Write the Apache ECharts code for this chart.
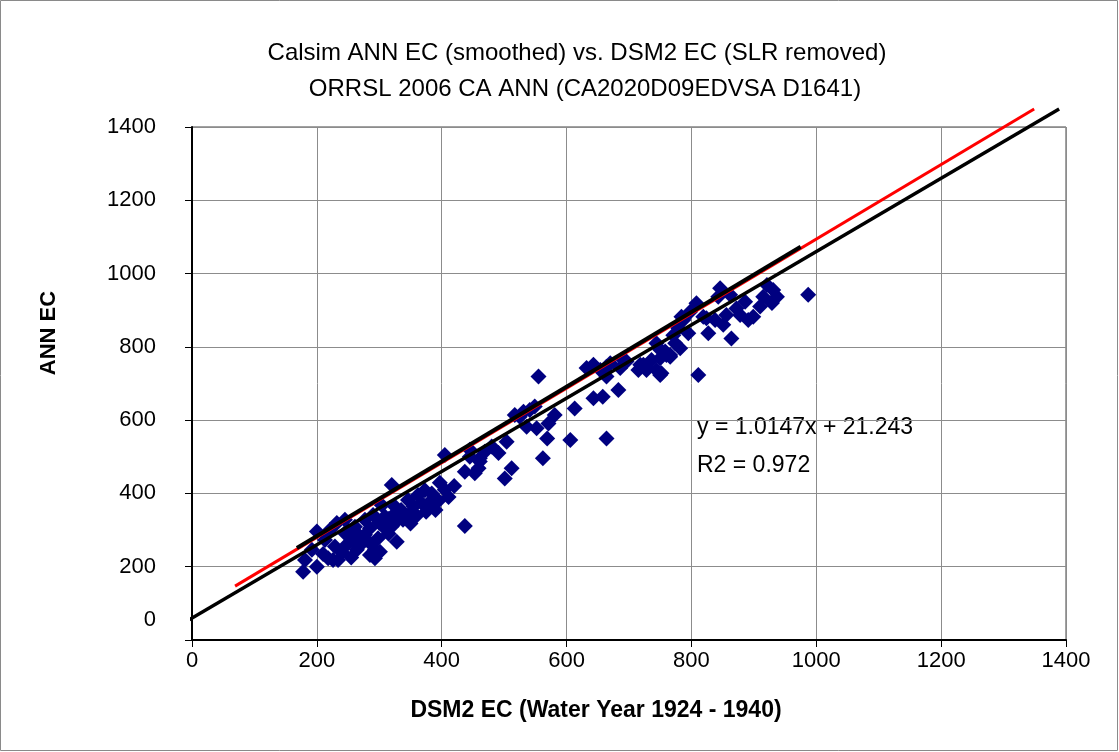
<!DOCTYPE html>
<html>
<head>
<meta charset="utf-8">
<script src="https://cdn.jsdelivr.net/npm/echarts@6/dist/echarts.min.js"></script>
<style>
  html, body { margin: 0; padding: 0; background: #fff; }
  #chart { width: 1119px; height: 752px; }
</style>
</head>
<body>
<div id="chart"></div>
<script>
var titleLines = ['Calsim ANN EC (smoothed) vs. DSM2 EC (SLR removed)', 'ORRSL 2006 CA ANN (CA2020D09EDVSA D1641)'];
var xName = 'DSM2 EC (Water Year 1924 - 1940)';
var yName = 'ANN EC';
var xTicks = [0, 200, 400, 600, 800, 1000, 1200, 1400];
var yTicks = [0, 200, 400, 600, 800, 1000, 1200, 1400];
var fitText = ['y = 1.0147x + 21.243', 'R2 = 0.972'];

// DSM2 EC vs ANN EC, monthly points
var lowPoints = [
  [178, 186], [200, 296], [200, 200], [226, 218], [232, 319], [285, 232], [301, 241],
  [328, 268], [344, 337], [320, 423], [381, 374], [397, 429], [405, 505], [437, 459],
  [411, 390], [437, 311], [218, 223], [234, 218], [245, 255], [256, 273], [264, 246],
  [277, 287], [293, 246], [298, 278], [309, 305], [330, 328], [338, 328], [309, 337],
  [290, 341], [277, 328], [261, 309], [245, 291], [213, 273], [192, 246], [181, 218],
  [304, 368], [325, 364], [346, 382], [352, 350], [362, 396], [373, 409], [384, 400],
  [384, 382], [368, 373], [445, 500], [461, 487], [453, 455], [469, 514], [229, 255],
  [272, 273], [296, 235], [293, 223], [245, 328], [221, 300], [250, 300], [265, 290],
  [285, 305], [300, 320], [315, 330], [325, 345], [335, 355], [355, 365], [270, 260],
  [285, 265], [315, 290], [320, 310], [210, 235], [240, 240], [255, 225], [350, 318],
  [360, 340], [395, 380], [405, 410], [420, 420], [375, 350], [390, 355]
];
var midPoints = [
  [555, 719], [632, 742], [643, 751], [670, 755], [691, 764], [723, 751], [744, 737],
  [750, 723], [766, 778], [683, 682], [643, 660], [613, 632], [581, 614], [571, 591],
  [552, 578], [536, 582], [525, 609], [541, 628], [549, 637], [606, 546], [664, 550],
  [569, 550], [562, 496], [512, 469], [501, 441], [504, 541], [491, 510], [480, 528],
  [461, 496], [459, 469], [445, 519], [517, 614], [531, 623]
];
var highPoints = [
  [987, 942], [921, 969], [931, 955], [929, 920], [937, 937], [915, 937], [910, 910],
  [899, 882], [891, 873], [886, 923], [872, 905], [862, 942], [846, 960], [843, 937],
  [856, 887], [851, 860], [864, 823], [827, 837], [824, 878], [808, 919], [798, 896],
  [784, 882], [779, 851], [795, 837], [771, 832], [782, 796], [750, 792], [744, 810],
  [760, 778], [736, 764], [752, 728], [726, 746], [715, 737], [696, 760], [686, 742],
  [811, 723], [878, 887], [838, 873], [819, 882], [787, 873], [774, 810], [758, 787],
  [766, 773], [750, 769], [718, 751], [728, 737], [664, 746], [654, 737], [664, 719],
  [658, 664]
];
var points = lowPoints.concat(midPoints, highPoints);

// trend lines (end points)
var redLine = [[69, 147], [1349, 1449]];
var shortLine = [[168, 251], [975, 1073]];
var longLine = [[-10, 50], [1389, 1449]];

var chart = echarts.init(document.getElementById('chart'));
var font = 'Liberation Sans, Arial, sans-serif';

var option = {
  backgroundColor: '#fff',
  animation: false,
  title: [
    { text: titleLines[0], left: 572, top: 36, textAlign: 'center',
      textStyle: { fontFamily: font, fontSize: 24, fontWeight: 'normal', color: '#000' } },
    { text: titleLines[1], left: 580, top: 72, textAlign: 'center',
      textStyle: { fontFamily: font, fontSize: 24, fontWeight: 'normal', color: '#000' } }
  ],
  grid: { left: 192, right: 53, top: 127, bottom: 112, show: true, borderColor: '#444', borderWidth: 1 },
  xAxis: {
    type: 'value', min: 0, max: 1400, interval: 200,
    axisLine: { show: true, onZero: false, lineStyle: { color: '#000', width: 2 } },
    axisTick: { show: true, inside: false, length: 7, lineStyle: { color: '#000' } },
    axisLabel: { fontFamily: font, fontSize: 22, color: '#000', margin: 10,
      formatter: function (v) { return xTicks.indexOf(v) >= 0 ? String(v) : ''; } },
    splitLine: { show: true, lineStyle: { color: '#8c8c8c', width: 1 } }
  },
  yAxis: {
    type: 'value', min: 0, max: 1400, interval: 200,
    axisLine: { show: true, onZero: false, lineStyle: { color: '#000', width: 2 } },
    axisTick: { show: true, inside: false, length: 7, lineStyle: { color: '#000' } },
    axisLabel: { fontFamily: font, fontSize: 22, color: '#000', margin: 36,
      formatter: function (v) { return v === 0 ? '{z|0}' : (yTicks.indexOf(v) >= 0 ? String(v) : ''); },
      rich: { z: { fontFamily: font, fontSize: 22, color: '#000', padding: [0, 0, 40, 0] } } },
    splitLine: { show: true, lineStyle: { color: '#8c8c8c', width: 1 } }
  },
  graphic: [
    { type: 'rect', shape: { x: 0.5, y: 0.5, width: 1117, height: 750 },
      style: { fill: null, stroke: '#8a8a8a', lineWidth: 1 }, silent: true },
    { type: 'text', x: 697, y: 428,
      style: { text: fitText[0], font: '23px ' + font, fill: '#000', textVerticalAlign: 'middle' } },
    { type: 'text', x: 697, y: 466,
      style: { text: fitText[1], font: '23px ' + font, fill: '#000', textVerticalAlign: 'middle' } },
    { type: 'text', x: 596, y: 711,
      style: { text: xName, font: 'bold 23px ' + font, fill: '#000', textAlign: 'center', textVerticalAlign: 'middle' } },
    { type: 'text', x: 49, y: 333, rotation: Math.PI / 2,
      style: { text: yName, font: 'bold 22px ' + font, fill: '#000', textAlign: 'center', textVerticalAlign: 'middle' } }
  ],
  series: [
    { type: 'scatter', data: points, symbol: 'diamond', symbolSize: 16,
      itemStyle: { color: '#000080', opacity: 1 }, z: 2 },
    { type: 'line', data: redLine, showSymbol: false, symbol: 'none', clip: false,
      lineStyle: { color: '#ff0000', width: 3 }, z: 3 },
    { type: 'line', data: shortLine, showSymbol: false, symbol: 'none', clip: false,
      lineStyle: { color: '#000', width: 4 }, z: 4 },
    { type: 'line', data: longLine, showSymbol: false, symbol: 'none', clip: false,
      lineStyle: { color: '#000', width: 3.5 }, z: 4 }
  ]
};

chart.setOption(option);
</script>
</body>
</html>
